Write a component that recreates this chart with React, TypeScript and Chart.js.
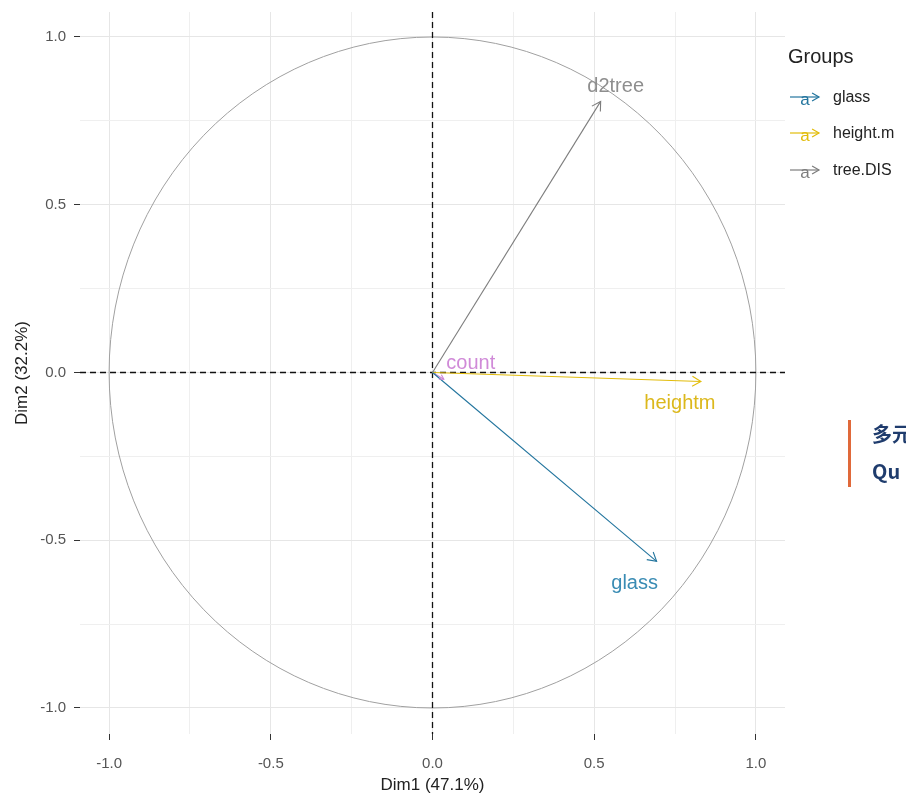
import React, { useEffect, useRef } from 'react';
import { Chart, registerables } from 'chart.js';

Chart.register(...registerables);

// ---- data ----
const variables = ['glass', 'heightm', 'd2tree', 'count'];
const dim1 = [0.693, 0.83, 0.52, 0.035];
const dim2 = [-0.563, -0.027, 0.808, -0.02];
const groupNames = ['glass', 'height.m', 'tree.DIS'];
const tickValues = [-1, -0.75, -0.5, -0.25, 0, 0.25, 0.5, 0.75, 1];
const labeledTicks = [-1, -0.5, 0, 0.5, 1];
const xTitle = 'Dim1 (47.1%)';
const yTitle = 'Dim2 (32.2%)';
const legendTitle = 'Groups';

// ---- styles ----
const arrowColors = ['#23759e', '#e2bc0a', '#7d7d7d', '#cf86d6'];
const labelColors = ['#3a8cb4', '#dcb81c', '#8e8e8e', '#d08ad8'];
const groupColors = ['#23759e', '#e2bc0a', '#7d7d7d'];
const labelOffsets = [
  [-22, 22],
  [-21, 22],
  [15, -15],
  [27, -16],
];
const FONT = '"Liberation Sans", Arial, Helvetica, sans-serif';

function drawArrowHead(ctx: CanvasRenderingContext2D, x0: number, y0: number, x1: number, y1: number, len: number) {
  const ang = Math.atan2(y1 - y0, x1 - x0);
  const spread = Math.PI / 6;
  ctx.beginPath();
  ctx.moveTo(x1 - len * Math.cos(ang - spread), y1 - len * Math.sin(ang - spread));
  ctx.lineTo(x1, y1);
  ctx.lineTo(x1 - len * Math.cos(ang + spread), y1 - len * Math.sin(ang + spread));
  ctx.stroke();
}

const pcaPlugin = {
  id: 'pcaPlugin',
  beforeDatasetsDraw(chart: any) {
    const { ctx, chartArea, scales } = chart;
    const x = scales.x;
    const y = scales.y;
    const cx = x.getPixelForValue(0);
    const cy = y.getPixelForValue(0);
    const rx = x.getPixelForValue(1) - cx;
    const ry = cy - y.getPixelForValue(1);
    ctx.save();
    ctx.beginPath();
    ctx.ellipse(cx, cy, rx, ry, 0, 0, Math.PI * 2);
    ctx.strokeStyle = '#a0a0a0';
    ctx.lineWidth = 1;
    ctx.stroke();
    ctx.setLineDash([6, 4]);
    ctx.strokeStyle = '#111';
    ctx.lineWidth = 1.3;
    ctx.beginPath();
    ctx.moveTo(chartArea.left, cy);
    ctx.lineTo(chartArea.right, cy);
    ctx.moveTo(cx, chartArea.top);
    ctx.lineTo(cx, chartArea.bottom);
    ctx.stroke();
    ctx.restore();
  },
  afterDatasetsDraw(chart: any) {
    const { ctx, scales } = chart;
    const x = scales.x;
    const y = scales.y;
    const ox = x.getPixelForValue(0);
    const oy = y.getPixelForValue(0);
    ctx.save();
    for (let i = 0; i < variables.length; i++) {
      const tx = x.getPixelForValue(dim1[i]);
      const ty = y.getPixelForValue(dim2[i]);
      ctx.strokeStyle = arrowColors[i];
      ctx.lineWidth = 1.1;
      drawArrowHead(ctx, ox, oy, tx, ty, i === 3 ? 5 : 10);
      ctx.fillStyle = labelColors[i];
      ctx.font = `20px ${FONT}`;
      ctx.textAlign = 'center';
      ctx.textBaseline = 'middle';
      ctx.fillText(variables[i], tx + labelOffsets[i][0], ty + labelOffsets[i][1]);
    }
    ctx.restore();
  },
  afterDraw(chart: any) {
    const { ctx } = chart;
    ctx.save();
    ctx.fillStyle = '#222';
    ctx.font = `20px ${FONT}`;
    ctx.textAlign = 'left';
    ctx.textBaseline = 'middle';
    ctx.fillText(legendTitle, 788, 57);
    const rows = [98, 134, 171];
    for (let i = 0; i < groupNames.length; i++) {
      const ry = rows[i];
      const c = groupColors[i];
      ctx.strokeStyle = c;
      ctx.lineWidth = 1.2;
      ctx.beginPath();
      ctx.moveTo(790, ry - 1);
      ctx.lineTo(819, ry - 1);
      ctx.stroke();
      drawArrowHead(ctx, 790, ry - 1, 819, ry - 1, 8);
      ctx.fillStyle = c;
      ctx.font = `17px ${FONT}`;
      ctx.textAlign = 'center';
      ctx.fillText('a', 805, ry + 2);
      ctx.fillStyle = '#222';
      ctx.font = `16px ${FONT}`;
      ctx.textAlign = 'left';
      ctx.fillText(groupNames[i], 833, ry);
    }
    ctx.restore();
  },
};

const isMajor = (v: any) => labeledTicks.includes(v);

function axisOptions(title: string, isY: boolean) {
  return {
    type: 'linear',
    min: isY ? -1.0775 : -1.09,
    max: isY ? 1.0745 : 1.09,
    afterBuildTicks: (scale: any) => {
      scale.ticks = tickValues.map((v) => ({ value: v }));
    },
    afterFit: (scale: any) => {
      if (isY) {
        scale.width = 80;
        scale.paddingTop = 0;
        scale.paddingBottom = 0;
      } else {
        scale.height = 66;
        scale.paddingLeft = 0;
        scale.paddingRight = 0;
      }
    },
    border: { display: false },
    grid: {
      color: (c: any) => (c.tick && isMajor(c.tick.value) ? '#e6e6e6' : '#efefef'),
      lineWidth: 1,
      drawTicks: true,
      tickLength: 6,
      tickColor: (c: any) => (c.tick && isMajor(c.tick.value) ? '#333' : 'rgba(0,0,0,0)'),
    },
    ticks: {
      autoSkip: false,
      maxRotation: 0,
      padding: isY ? 8 : 15,
      color: '#555',
      font: { family: FONT, size: 15 },
      callback: (v: any) => (isMajor(v) ? Number(v).toFixed(1) : ''),
    },
    title: {
      display: true,
      text: title,
      color: '#222',
      font: { family: FONT, size: 17 },
      padding: isY ? { top: 12, bottom: 0 } : { top: 0, bottom: 4 },
    },
  };
}

export default function App() {
  const ref = useRef<HTMLCanvasElement>(null);
  useEffect(() => {
    if (!ref.current) return;
    const chart = new Chart(ref.current, {
      type: 'scatter',
      data: {
        datasets: variables.map((name, i) => ({
          label: name,
          data: [
            { x: 0, y: 0 },
            { x: dim1[i], y: dim2[i] },
          ],
          showLine: true,
          borderColor: arrowColors[i],
          backgroundColor: arrowColors[i],
          borderWidth: 1.1,
          pointRadius: 0,
          pointHoverRadius: 0,
        })),
      },
      options: {
        responsive: false,
        animation: false,
        devicePixelRatio: 1,
        layout: { padding: { top: 12, right: 121, left: 0, bottom: 0 } },
        plugins: { legend: { display: false }, tooltip: { enabled: false } },
        scales: {
          x: axisOptions(xTitle, false) as any,
          y: axisOptions(yTitle, true) as any,
        },
      },
      plugins: [pcaPlugin],
    });
    return () => chart.destroy();
  }, []);

  return (
    <div style={{ position: 'fixed', left: 0, top: 0, width: 906, height: 800, overflow: 'hidden', background: '#fff' }}>
      <canvas ref={ref} width={906} height={800} style={{ position: 'absolute', left: 0, top: 0 }} />
      <div style={{ position: 'absolute', left: 848, top: 420, width: 3, height: 67, background: '#e0693a' }} />
      <div
        style={{
          position: 'absolute',
          left: 872,
          top: 415,
          whiteSpace: 'nowrap',
          fontFamily: '"Noto Sans CJK SC", "Noto Sans", sans-serif',
          fontWeight: 700,
          fontSize: 20,
          lineHeight: '37px',
          color: '#1f3c6d',
        }}
      >
        <div>多元统计</div>
        <div>Qu</div>
      </div>
    </div>
  );
}
